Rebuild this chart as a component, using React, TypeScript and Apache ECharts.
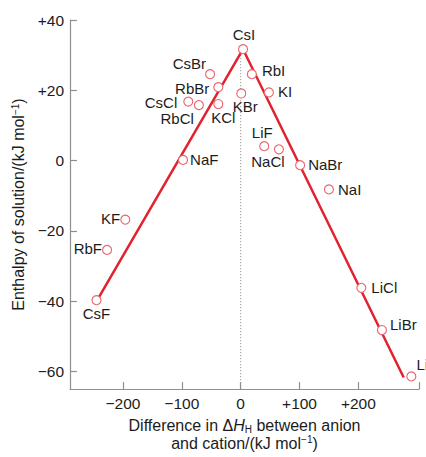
import React, { useEffect, useRef } from "react";
import * as echarts from "echarts";

const compounds = ["CsI", "RbI", "KI", "KBr", "CsBr", "RbBr", "CsCl", "RbCl", "KCl", "NaF", "LiF", "NaCl", "NaBr", "NaI", "KF", "RbF", "CsF", "LiCl", "LiBr", "LiI"];
const deltaH = [4, 19, 48, 1, -52, -38, -89, -71, -38, -98, 40, 65, 101, 150, -196, -227, -245, 205, 240, 290];
const enthalpy = [31.7, 24.6, 19.4, 19.1, 24.6, 20.9, 16.8, 15.8, 16.1, 0.2, 4.1, 3.2, -1.3, -8.2, -16.8, -25.4, -39.7, -36.2, -48.2, -61.4];

const trendX = [-243, 4, 277];
const trendY = [-39.5, 31.7, -61.7];

const xTicks = [-200, -100, 0, 100, 200];
const yTicks = [-60, -40, -20, 0, 20, 40];
const xTickLabels = ["\u2212200", "\u2212100", "0", "+100", "+200"];
const yTickLabels = ["\u221260", "\u221240", "\u221220", "0", "+20", "+40"];

// label placement per compound: [position, distance, dx, dy]
const labelPlace: Record<string, [string, number, number, number]> = {
  CsI: ["top", 2, 1, 0],
  RbI: ["right", 5, 0, -4],
  KI: ["right", 4, 0, -1],
  KBr: ["bottom", 0, 4, 0],
  CsBr: ["left", 0, 1, -11],
  RbBr: ["left", 4, 0, 1],
  CsCl: ["left", 6, 0, 1],
  RbCl: ["left", 0, 0, 13],
  KCl: ["bottom", 1, 5, 0],
  NaF: ["right", 2, 0, 0],
  LiF: ["top", 1, -2, 0],
  NaCl: ["bottom", 0, -11, 0],
  NaBr: ["right", 3, 0, -1],
  NaI: ["right", 4, 0, 0],
  KF: ["left", 0, 0, -1],
  RbF: ["left", 0, 0, -1],
  CsF: ["bottom", 1, 0, 0],
  LiCl: ["right", 5, 0, 0],
  LiBr: ["right", 3, 0, -6],
  LiI: ["right", 0, 0, -12],
};

const FONT = "'Liberation Sans', Arial, Helvetica, sans-serif";
const AXIS_COLOR = "#8f8f8f";
const TEXT = "#1c1c1c";

export default function App() {
  const ref = useRef<HTMLDivElement>(null);
  useEffect(() => {
    if (!ref.current) return;
    const chart = echarts.init(ref.current, null, { renderer: "svg" });
    const scatterData = compounds.map((n, i) => {
      const p = labelPlace[n];
      return {
        name: n,
        value: [deltaH[i], enthalpy[i]],
        label: { position: p[0], distance: p[1], offset: [p[2], p[3]] },
      };
    });
    chart.setOption({
      animation: false,
      grid: { left: 70, right: 7, top: 20, bottom: 58 },
      xAxis: {
        type: "value",
        min: -290,
        max: 303,
        splitLine: { show: false },
        axisLine: { show: true, onZero: false, lineStyle: { color: AXIS_COLOR, width: 1.2 } },
        axisTick: { inside: true, length: 7, customValues: [...xTicks, 303], lineStyle: { color: AXIS_COLOR, width: 1.2 } },
        axisLabel: {
          customValues: xTicks,
          margin: 6,
          fontSize: 15.5,
          color: TEXT,
          fontFamily: FONT,
          formatter: (v: number) => xTickLabels[xTicks.indexOf(v)] ?? "",
        },
        name: "Difference in \u0394{it|H}{sub|H} between anion\nand cation/(kJ mol{sup|\u22121})",
        nameLocation: "middle",
        nameGap: 26,
        nameTextStyle: {
          fontSize: 16,
          color: TEXT,
          fontFamily: FONT,
          lineHeight: 18,
          rich: {
            it: { fontSize: 16, fontStyle: "italic", fontFamily: FONT, color: TEXT, lineHeight: 18 },
            sub: { fontSize: 10, verticalAlign: "bottom", fontFamily: FONT, color: TEXT, lineHeight: 18, padding: [6, 0, 0, 0] },
            sup: { fontSize: 10, verticalAlign: "top", fontFamily: FONT, color: TEXT, lineHeight: 18, padding: [0, 0, 6, 0] },
          },
        },
      },
      yAxis: {
        type: "value",
        min: -65,
        max: 40,
        splitLine: { show: false },
        axisLine: { show: true, onZero: false, lineStyle: { color: AXIS_COLOR, width: 1.2 } },
        axisTick: { inside: true, length: 7, customValues: yTicks, lineStyle: { color: AXIS_COLOR, width: 1.2 } },
        axisLabel: {
          customValues: yTicks,
          margin: 6,
          fontSize: 15.5,
          color: TEXT,
          fontFamily: FONT,
          formatter: (v: number) => yTickLabels[yTicks.indexOf(v)] ?? "",
        },
        name: "Enthalpy of solution/(kJ mol{sup|\u22121})",
        nameLocation: "middle",
        nameGap: 30,
        nameTextStyle: {
          fontSize: 16,
          color: TEXT,
          fontFamily: FONT,
          rich: {
            sup: { fontSize: 10, verticalAlign: "top", fontFamily: FONT, color: TEXT, padding: [0, 0, 6, 0] },
          },
        },
      },
      series: [
        {
          type: "line",
          data: [[0, 30], [0, -65]],
          symbol: "none",
          lineStyle: { color: "#888", width: 1, type: [1, 2] },
          z: 1,
        },
        {
          type: "line",
          data: trendX.map((x, i) => [x, trendY[i]]),
          symbol: "none",
          lineStyle: { color: "#e2222e", width: 2.5 },
          z: 2,
        },
        {
          type: "scatter",
          data: scatterData,
          symbol: "circle",
          symbolSize: 9,
          itemStyle: { color: "#fff", borderColor: "#e9646d", borderWidth: 1.1, opacity: 1 },
          label: {
            show: true,
            formatter: "{b}",
            fontSize: 15,
            color: TEXT,
            fontFamily: FONT,
          },
          z: 3,
        },
      ],
    });
    return () => chart.dispose();
  }, []);
  return <div ref={ref} style={{ position: "absolute", left: 0, top: 0, width: 426, height: 457 }} />;
}
